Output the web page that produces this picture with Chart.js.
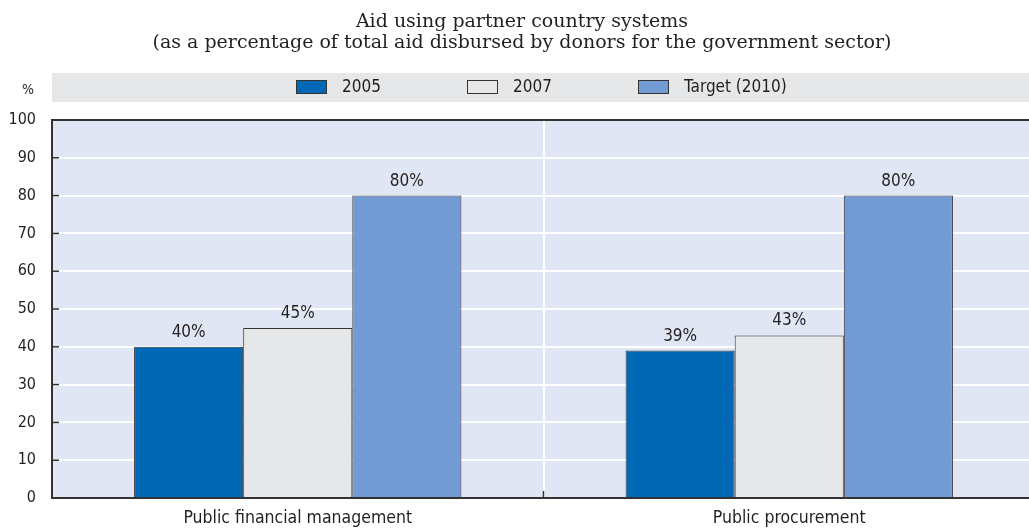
<!DOCTYPE html>
<html>
<head>
<meta charset="utf-8">
<script src="https://cdn.jsdelivr.net/npm/chart.js@4.4.0/dist/chart.umd.min.js"></script>
<style>
  html, body { margin: 0; padding: 0; background: #fff; }
  /* the plot runs a few pixels past the right edge, as in the original */
  #wrap { width: 1029px; height: 530px; overflow: hidden; }
</style>
</head>
<body>
<div id="wrap"><canvas id="aidGraph" width="1035" height="530"></canvas></div>
<script>
// data
var categories = ["Public financial management", "Public procurement"];
var seriesNames = ["2005", "2007", "Target (2010)"];
var values2005 = [40, 39];
var values2007 = [45, 43];
var valuesTarget = [80, 80];
var titleLines = ["Aid using partner country systems",
  "(as a percentage of total aid disbursed by donors for the government sector)"];
var yUnit = "%";

var SANS = "'DejaVu Sans Condensed', 'Liberation Sans Narrow', 'DejaVu Sans', sans-serif";
var SERIF = "'DejaVu Serif', serif";
var INK = "#231f20";
var seriesColors = ["#0068b4", "#e6e7e8", "#739bd3"];

// background, titles and the grey legend band
var framePlugin = {
  id: 'frame',
  beforeDraw: function(chart) {
    var ctx = chart.ctx, a = chart.chartArea;
    ctx.save();
    ctx.fillStyle = '#fff';
    ctx.fillRect(0, 0, chart.width, chart.height);
    ctx.fillStyle = '#e0e6f4';
    ctx.fillRect(a.left, a.top, a.right - a.left, a.bottom - a.top);

    ctx.fillStyle = INK;
    ctx.textAlign = 'center';
    ctx.textBaseline = 'alphabetic';
    ctx.font = '19px ' + SERIF;
    ctx.fillText(titleLines[0], 522, 27);
    ctx.fillText(titleLines[1], 522, 48);

    ctx.fillStyle = '#e6e7e8';
    ctx.fillRect(a.left, 73, chart.width - a.left, 29);
    ctx.fillStyle = INK;
    ctx.font = '14px ' + SANS;
    ctx.textBaseline = 'middle';
    ctx.fillText(yUnit, 28, 90);

    ctx.font = '17px ' + SANS;
    ctx.textAlign = 'left';
    chart.data.datasets.forEach(function(ds, i) {
      var x = 296 + i * 171;
      ctx.fillStyle = ds.backgroundColor;
      ctx.fillRect(x, 80, 31, 14);
      ctx.strokeStyle = '#333';
      ctx.lineWidth = 1;
      ctx.strokeRect(x + 0.5, 80.5, 30, 13);
      ctx.fillStyle = INK;
      ctx.fillText(ds.label, x + 46, 88);
    });
    ctx.restore();
  },
  afterDraw: function(chart) {
    var ctx = chart.ctx, a = chart.chartArea;
    var y = chart.scales.y, x = chart.scales.x;
    ctx.save();
    ctx.strokeStyle = '#333';
    // top frame line
    ctx.lineWidth = 2;
    ctx.beginPath();
    ctx.moveTo(a.left, a.top);
    ctx.lineTo(chart.width, a.top);
    ctx.stroke();
    // small inner ticks on the value axis
    ctx.lineWidth = 1.5;
    y.ticks.forEach(function(t) {
      if (t.value <= y.min || t.value >= y.max) return;
      var py = y.getPixelForValue(t.value);
      ctx.beginPath();
      ctx.moveTo(a.left, py);
      ctx.lineTo(a.left + 7, py);
      ctx.stroke();
    });
    // tick between the two categories
    for (var i = 1; i < categories.length; i++) {
      var px = (x.getPixelForValue(i - 1) + x.getPixelForValue(i)) / 2;
      ctx.beginPath();
      ctx.moveTo(px, a.bottom);
      ctx.lineTo(px, a.bottom - 7);
      ctx.stroke();
    }
    ctx.restore();
  }
};

// value labels above bars
var barLabels = {
  id: 'barLabels',
  afterDatasetsDraw: function(chart) {
    var ctx = chart.ctx;
    ctx.save();
    ctx.fillStyle = INK;
    ctx.font = '17px ' + SANS;
    ctx.textAlign = 'center';
    ctx.textBaseline = 'bottom';
    chart.data.datasets.forEach(function(ds, i) {
      chart.getDatasetMeta(i).data.forEach(function(bar, j) {
        ctx.fillText(ds.data[j] + '%', bar.x, bar.y - 6);
      });
    });
    ctx.restore();
  }
};

var aidConfig = {
  type: 'bar',
  data: {
    labels: categories,
    datasets: [
      { label: seriesNames[0], data: values2005 },
      { label: seriesNames[1], data: values2007 },
      { label: seriesNames[2], data: valuesTarget }
    ].map(function(ds, i) {
      ds.backgroundColor = seriesColors[i];
      ds.borderColor = '#333';
      ds.borderWidth = 1;
      ds.categoryPercentage = 0.666;
      ds.barPercentage = 1.0;
      return ds;
    })
  },
  options: {
    responsive: false,
    animation: false,
    devicePixelRatio: 1,
    layout: { padding: { top: 120, right: 0, left: 0, bottom: 0 } },
    plugins: {
      legend: { display: false },
      title: { display: false },
      tooltip: { enabled: false }
    },
    scales: {
      x: {
        offset: true,
        grid: {
          offset: true,
          drawTicks: false,
          lineWidth: 2,
          color: function(c) {
            return (c.index > 0 && c.index < categories.length) ? '#fff' : 'rgba(0,0,0,0)';
          }
        },
        border: { color: '#333', width: 2 },
        ticks: { color: INK, font: { family: SANS, size: 17.5 }, padding: 10 },
        afterFit: function(s) { s.height = 32; }
      },
      y: {
        min: 0,
        max: 100,
        ticks: { stepSize: 10, color: INK, font: { family: SANS, size: 16 }, padding: 16 },
        grid: { color: '#fff', lineWidth: 2, drawTicks: false },
        border: { color: '#333', width: 2 },
        afterFit: function(s) { s.width = 52; }
      }
    }
  },
  plugins: [framePlugin, barLabels]
};

var aidChart = new Chart(document.getElementById('aidGraph'), aidConfig);
</script>
</body>
</html>
